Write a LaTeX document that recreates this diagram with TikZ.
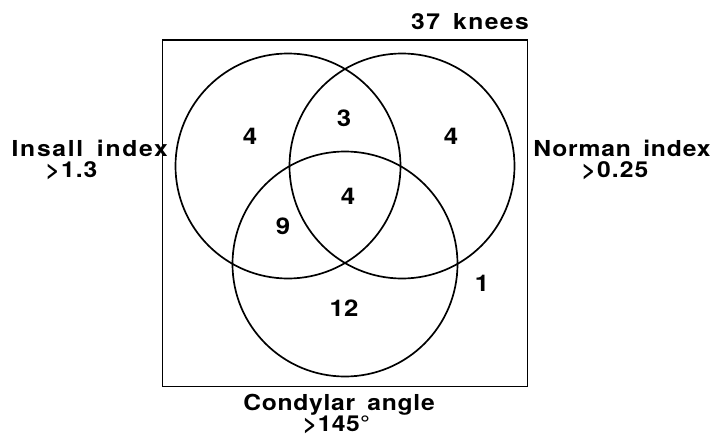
\documentclass[tikz,border=0pt]{standalone}
\usepackage{fontspec}
\setmainfont{TeX Gyre Heros}[FakeStretch=1.12,WordSpace=1.6]
\begin{document}
\begin{tikzpicture}[x=1pt,y=-1pt,
  venn/.style={draw,circle,line width=1.7pt,minimum size=225pt,inner sep=0pt},
  lbl/.style={font=\fontsize{22}{26}\selectfont\bfseries\addfontfeature{LetterSpace=#1},inner sep=0pt,anchor=base},
  lbl/.default=5,
  num/.style={font=\fontsize{23}{27}\selectfont\bfseries,inner sep=0pt,anchor=base},
]
\useasboundingbox (0,0) rectangle (712,442);
\node[draw,line width=1.3pt,minimum width=365pt,minimum height=346.7pt,inner sep=0pt] (box) at (345.2,213.35) {};
\node[venn] (ins) at (288,166) {};
\node[venn] (nor) at (402,166) {};
\node[venn] (con) at (345,264) {};
% labels
\node[lbl=6.5] (t37) at (470,29) {37 knees};
\node[lbl=7.8] (insa) at (89.7,156) {Insall index};
\node[lbl] (insb) at (71.5,177) {>1.3};
\node[lbl=3.8] (nora) at (622,156) {Norman index};
\node[lbl] (norb) at (615,177) {>0.25};
\node[lbl=3.4] (cona) at (339,410) {Condylar angle};
\node[lbl=2] (conb) at (336.5,431) {>145°};
% counts
\node[num] (n1) at (250,144.5) {4};
\node[num] (n2) at (344,126.3) {3};
\node[num] (n3) at (451,144) {4};
\node[num] (n4) at (348,204.7) {4};
\node[num] (n5) at (283,234) {9};
\node[num] (n6) at (344,316.3) {12};
\node[num] (n7) at (482,291.3) {1};
\end{tikzpicture}
\end{document}
